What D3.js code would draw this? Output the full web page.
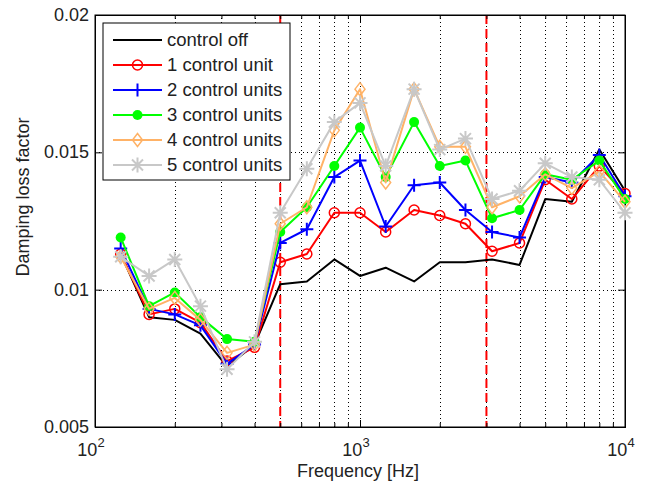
<!DOCTYPE html>
<html lang="en">
<head>
    <meta charset="UTF-8">
    <title>Damping loss factor</title>
    <script src="https://d3js.org/d3.v7.min.js"></script>
    <style>
        body { margin: 0; background: #fff; }
        svg { display: block; font-family: "Liberation Sans", Arial, sans-serif; }
    </style>
</head>
<body>
<div id="chart"></div>
<script>
    // one-third octave band centre frequencies
    const freqs = [125, 160, 200, 250, 315, 400, 500, 630, 800, 1000, 1250, 1600, 2000, 2500, 3150, 4000, 5000, 6300, 8000, 10000];

    const controlOff = [0.0113, 0.0090, 0.0089, 0.0084, 0.0072, 0.0080, 0.0102, 0.0103, 0.0111, 0.0105, 0.0108, 0.0103, 0.0110, 0.0110, 0.0111, 0.0109, 0.0133, 0.0132, 0.0151, 0.0136];
    const unit1 = [0.0113, 0.0091, 0.0093, 0.0088, 0.0074, 0.0079, 0.0110, 0.0113, 0.0128, 0.0128, 0.0121, 0.0129, 0.0127, 0.0124, 0.0114, 0.0117, 0.0140, 0.0133, 0.0145, 0.0135];
    const unit2 = [0.0115, 0.0093, 0.0091, 0.0087, 0.0073, 0.0080, 0.0117, 0.0122, 0.0141, 0.0147, 0.0123, 0.0138, 0.0139, 0.0129, 0.0121, 0.0119, 0.0141, 0.0139, 0.0149, 0.0134];
    const unit3 = [0.0119, 0.0094, 0.0099, 0.0090, 0.0082, 0.0081, 0.0121, 0.0130, 0.0145, 0.0159, 0.0141, 0.0161, 0.0145, 0.0147, 0.0126, 0.0129, 0.0142, 0.0140, 0.0147, 0.0133];
    const unit4 = [0.0112, 0.0093, 0.0097, 0.0089, 0.0077, 0.0080, 0.0124, 0.0130, 0.0158, 0.0173, 0.0139, 0.0173, 0.0152, 0.0152, 0.0130, 0.0134, 0.0142, 0.0137, 0.0143, 0.0132];
    const unit5 = [0.0112, 0.0105, 0.0111, 0.0094, 0.0071, 0.0081, 0.0128, 0.0144, 0.0161, 0.0168, 0.0145, 0.0173, 0.0151, 0.0155, 0.0133, 0.0136, 0.0146, 0.0141, 0.0140, 0.0128];

    const seriesNames = ["control off", "1 control unit", "2 control units", "3 control units", "4 control units", "5 control units"];
    const seriesColors = ["#000000", "#ff0000", "#0000ff", "#00ff00", "#ffb266", "#c8c8c8"];
    const seriesMarkers = ["none", "circle", "plus", "dot", "diamond", "star"];
    const seriesValues = [controlOff, unit1, unit2, unit3, unit4, unit5];

    const yTicks = [0.005, 0.01, 0.015, 0.02];
    const yTickLabels = ["0.005", "0.01", "0.015", "0.02"];
    const xMajor = [100, 1000, 10000];
    const xMinor = [200, 300, 400, 500, 600, 700, 800, 900, 2000, 3000, 4000, 5000, 6000, 7000, 8000, 9000];
    const boundaries = [500, 3000]; // red dashed band limits

    const W = 647, H = 487;
    const m = {left: 95, right: 22, top: 15, bottom: 60};

    const svg = d3.select("#chart").append("svg").attr("width", W).attr("height", H);

    const x = d3.scaleLog().domain([100, 10000]).range([m.left, W - m.right]);
    const y = d3.scaleLinear().domain([0.005, 0.02]).range([H - m.bottom, m.top]);

    // grid
    const grid = svg.append("g").attr("stroke", "#000").attr("stroke-width", 1).attr("stroke-dasharray", "1,3");
    grid.selectAll("line.gx").data(xMajor.slice(1, -1).concat(xMinor)).join("line")
        .attr("x1", d => Math.round(x(d)) + 0.5).attr("x2", d => Math.round(x(d)) + 0.5)
        .attr("y1", y(0.005)).attr("y2", y(0.02));
    grid.selectAll("line.gy").data(yTicks.slice(1, -1)).join("line")
        .attr("y1", d => Math.round(y(d)) + 0.5).attr("y2", d => Math.round(y(d)) + 0.5)
        .attr("x1", x(100)).attr("x2", x(10000));

    // band limits
    svg.append("g").selectAll("line").data(boundaries).join("line")
        .attr("x1", d => x(d)).attr("x2", d => x(d))
        .attr("y1", y(0.02)).attr("y2", y(0.005))
        .attr("stroke", "#ff0000").attr("stroke-width", 2).attr("stroke-dasharray", "9,5");

    // axes (inward ticks on all four sides)
    const fmtX = () => "";
    svg.append("g").attr("transform", `translate(0,${y(0.005)})`)
        .call(d3.axisTop(x).tickValues(xMajor).tickSize(7).tickFormat(fmtX));
    svg.append("g").attr("transform", `translate(0,${y(0.005)})`)
        .call(d3.axisTop(x).tickValues(xMinor).tickSize(4).tickFormat(fmtX));
    svg.append("g").attr("transform", `translate(0,${y(0.02)})`)
        .call(d3.axisBottom(x).tickValues(xMajor).tickSize(7).tickFormat(fmtX));
    svg.append("g").attr("transform", `translate(0,${y(0.02)})`)
        .call(d3.axisBottom(x).tickValues(xMinor).tickSize(4).tickFormat(fmtX));
    svg.append("g").attr("transform", `translate(${x(100)},0)`)
        .call(d3.axisRight(y).tickValues(yTicks).tickSize(7).tickFormat(""));
    svg.append("g").attr("transform", `translate(${x(10000)},0)`)
        .call(d3.axisLeft(y).tickValues(yTicks).tickSize(7).tickFormat(""));
    svg.selectAll(".domain").attr("stroke", "#000");
    svg.selectAll(".tick line").attr("stroke", "#000");

    svg.append("rect").attr("x", x(100)).attr("y", y(0.02))
        .attr("width", x(10000) - x(100)).attr("height", y(0.005) - y(0.02))
        .attr("fill", "none").attr("stroke", "#000").attr("stroke-width", 1);

    // tick labels
    svg.append("g").selectAll("text").data(yTicks).join("text")
        .attr("x", x(100) - 6).attr("y", d => y(d) + 6)
        .attr("text-anchor", "end").attr("font-size", 18).attr("fill", "#222")
        .text((d, i) => yTickLabels[i]);
    const xl = svg.append("g").selectAll("text").data(xMajor).join("text")
        .attr("x", d => x(d) - 4).attr("y", y(0.005) + 29)
        .attr("text-anchor", "middle").attr("font-size", 18).attr("fill", "#222");
    xl.append("tspan").text("10");
    xl.append("tspan").attr("dy", -9).attr("font-size", 13).text(d => Math.round(Math.log10(d)));

    svg.append("text").attr("x", (x(100) + x(10000)) / 2 - 2).attr("y", H - 10)
        .attr("text-anchor", "middle").attr("font-size", 18).attr("fill", "#222").text("Frequency [Hz]");
    svg.append("text").attr("transform", `translate(29,197) rotate(-90)`)
        .attr("text-anchor", "middle").attr("font-size", 18).attr("fill", "#222").text("Damping loss factor");

    // marker drawing
    function marker(g, type, color) {
        if (type === "circle") {
            g.append("circle").attr("r", 5).attr("fill", "none").attr("stroke", color).attr("stroke-width", 1.5);
        } else if (type === "plus") {
            g.append("path").attr("d", "M-6.5,0H6.5M0,-6.5V6.5").attr("stroke", color).attr("stroke-width", 2);
        } else if (type === "dot") {
            g.append("circle").attr("r", 5).attr("fill", color);
        } else if (type === "diamond") {
            g.append("path").attr("d", "M0,-6.5L5,0L0,6.5L-5,0Z").attr("fill", "none").attr("stroke", color).attr("stroke-width", 1.5);
        } else if (type === "star") {
            g.append("path").attr("d", "M-7.5,0H7.5M0,-7.5V7.5M-5.5,-5.5L5.5,5.5M-5.5,5.5L5.5,-5.5").attr("stroke", color).attr("stroke-width", 2);
        }
    }

    const line = d3.line().x((d, i) => x(freqs[i])).y(d => y(d));

    seriesValues.forEach((vals, s) => {
        const g = svg.append("g");
        g.append("path").datum(vals).attr("d", line)
            .attr("fill", "none").attr("stroke", seriesColors[s]).attr("stroke-width", 2)
            .attr("stroke-linejoin", "round");
        if (seriesMarkers[s] !== "none") {
            vals.forEach((v, i) => {
                const mg = g.append("g").attr("transform", `translate(${x(freqs[i])},${y(v)})`);
                marker(mg, seriesMarkers[s], seriesColors[s]);
            });
        }
    });

    // legend
    const lg = svg.append("g").attr("transform", "translate(103,23)");
    lg.append("rect").attr("width", 187).attr("height", 157).attr("fill", "#fff").attr("stroke", "#000");
    seriesNames.forEach((name, i) => {
        const ly = 17 + i * 25;
        lg.append("line").attr("x1", 10).attr("x2", 59).attr("y1", ly).attr("y2", ly)
            .attr("stroke", seriesColors[i]).attr("stroke-width", 2);
        if (seriesMarkers[i] !== "none") {
            marker(lg.append("g").attr("transform", `translate(34.5,${ly})`), seriesMarkers[i], seriesColors[i]);
        }
        lg.append("text").attr("x", 64).attr("y", ly + 6).attr("font-size", 18.5).attr("fill", "#222").text(name);
    });
</script>
</body>
</html>
